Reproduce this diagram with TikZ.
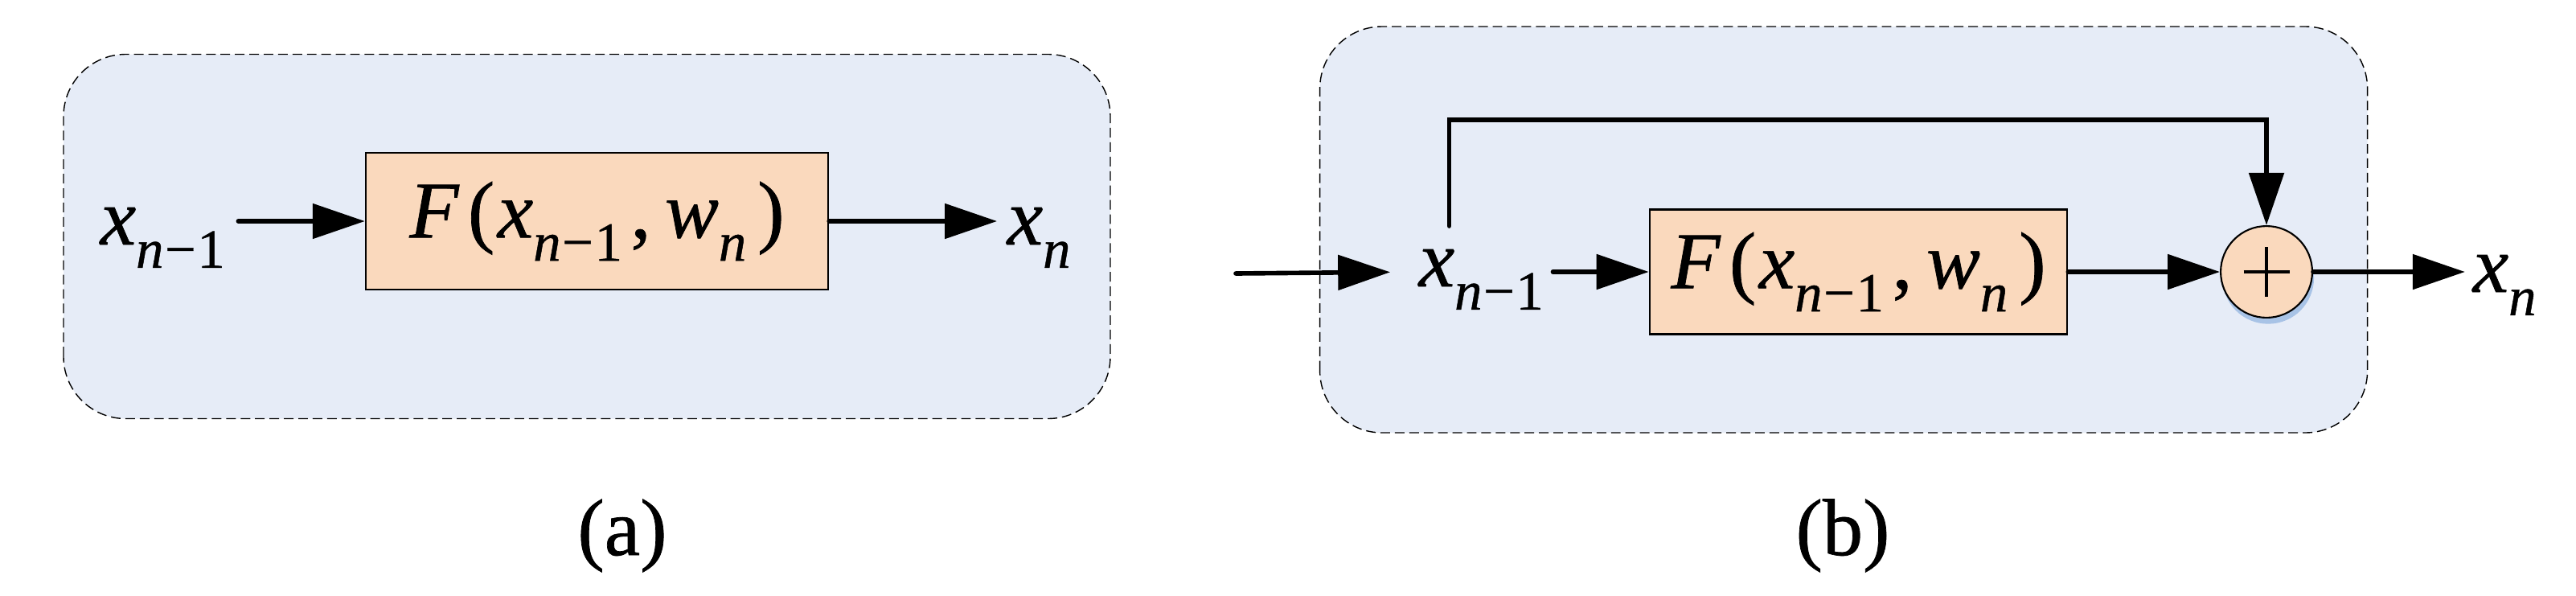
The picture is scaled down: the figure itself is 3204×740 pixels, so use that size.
\documentclass[tikz,border=0pt]{standalone}
\usepackage{fontspec}
\setmainfont{Liberation Serif}[FakeBold=0.7]
\usepackage{tikz}
\usetikzlibrary{positioning,arrows.meta,shadows}
\usepackage{xcolor}

\definecolor{panelblue}{HTML}{E6ECF7}
\definecolor{blockpeach}{HTML}{FAD9BD}
\definecolor{shadowblue}{HTML}{A8C3E6}

% variable with a lowered subscript
\newcommand{\xsub}[2]{\textit{#1}\raisebox{-8.2pt}{\fontsize{19.5pt}{20pt}\selectfont #2}}
\newcommand{\nmo}{\textit{n}\kern0.5pt−\kern0.5pt1}
\newcommand{\Fterm}{\textit{F}\kern3pt(\kern1pt\xsub{x}{\nmo}\kern3pt,\kern5pt\xsub{w}{\textit{n}}\kern4pt)}

\begin{document}
\begin{tikzpicture}[x=0.1mm, y=0.1mm,
        every node/.style={font=\fontsize{28.5pt}{34pt}\selectfont},
        panel/.style={draw, dashed, dash pattern=on 3.4pt off 1.7pt, line width=0.4pt, fill=panelblue, rounded corners=22pt},
        block/.style={draw, line width=0.7pt, fill=blockpeach, inner sep=0pt},
        var/.style={inner sep=0pt, anchor=base west},
        arr/.style={line width=1.6pt, line cap=round, -{Triangle[length=18.5pt, width=12.2pt]}},
        sumnode/.style={circle, draw, line width=0.6pt, fill=blockpeach, minimum size=32.4pt, inner sep=0pt,
            drop shadow={shadow xshift=0.6pt, shadow yshift=-2.2pt, fill=shadowblue, opacity=1},
            path picture={\draw[line width=0.9pt] (path picture bounding box.center) ++(-8.1pt,0) -- ++(16.2pt,0)
                (path picture bounding box.center) ++(0,-8.8pt) -- ++(0,17.6pt);}}]
        \path[use as bounding box, fill=white] (0,0) rectangle (3204,740);

        % Panel (a): plain block
        \draw[panel] (79,219.5) rectangle (1381,672.5);
        \node[var] (xa_in) at (124,436) {\xsub{x}{\nmo}};
        \node[block, minimum width=163.6pt, minimum height=48.4pt] (Fa) at (742.5,465) {\Fterm};
        \node[var] (xa_out) at (1252,436) {\xsub{x}{\textit{n}}};

        \draw[arr, shorten <=4.5pt] (xa_in.east |- Fa.west) -- (Fa.west);
        \draw[arr, shorten >=3.4pt] (Fa.east) -- (xa_out.west |- Fa.east);

        \node (cap_a) at (774,74) {(a)};

        % Panel (b): residual block
        \draw[panel] (1641.6,202) rectangle (2944.6,707);
        \coordinate (b_in) at (1537,400);
        \node[var] (xb_in) at (1764,384) {\xsub{x}{\nmo}};
        \node[block, minimum width=147.7pt, minimum height=44pt] (Fb) at (2311.5,402) {\Fterm};
        \node[sumnode] (sum) at (2819,402) {};
        \node[var] (xb_out) at (3075,377) {\xsub{x}{\textit{n}}};

        \draw[arr, shorten >=9.9pt] (b_in) -- (xb_in.west |- Fb.west);
        \draw[arr, shorten <=3.1pt] (xb_in.east |- Fb.west) -- (Fb.west);
        \draw[arr] (Fb.east) -- (sum.west);
        \draw[arr, shorten >=2.6pt] (sum.east) -- (xb_out.west |- sum.east);

        % skip connection
        \coordinate (skip_bot) at (1802.5,459);
        \coordinate (skip_top) at (2819,591);
        \draw[arr] (skip_bot) |- (skip_top) -- (sum.north);

        \node (cap_b) at (2292,74) {(b)};
    \end{tikzpicture}
\end{document}
